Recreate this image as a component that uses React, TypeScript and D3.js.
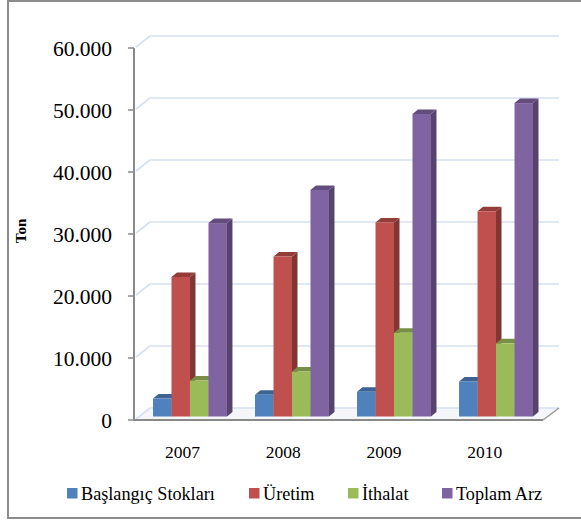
import React from "react";
import * as d3 from "d3";

const years = ["2007", "2008", "2009", "2010"];
const seriesNames = ["Başlangıç Stokları", "Üretim", "İthalat", "Toplam Arz"];
const baslangic = [2900, 3500, 4000, 5650];
const uretim = [22500, 25800, 31300, 33100];
const ithalat = [5800, 7250, 13500, 11800];
const toplamArz = [31200, 36550, 48800, 50550];
const seriesColors = ["#4F81BD", "#C0504D", "#9BBB59", "#8064A2"];
const yTicks = [0, 10000, 20000, 30000, 40000, 50000, 60000];
const yTickLabels = ["0", "10.000", "20.000", "30.000", "40.000", "50.000", "60.000"];

const seriesValues = [baslangic, uretim, ithalat, toplamArz];

const W = 581;
const H = 521;
const FONT =
  '"Times New Roman", Times, "Liberation Serif", Tinos, "DejaVu Serif", serif';

export default function App() {
  const yFront = d3.scaleLinear().domain([0, 60000]).range([420, 48]);
  const yBar = d3.scaleLinear().domain([0, 60000]).range([416.5, 44.5]);
  const wallDx = 13;
  const wallDy = 12;

  const x0 = d3
    .scaleBand<string>()
    .domain(years)
    .range([139, 547])
    .paddingInner(0.275)
    .paddingOuter(14 / 102);
  const x1 = d3
    .scaleBand<string>()
    .domain(seriesNames)
    .range([0, x0.bandwidth()]);

  const xLabel = d3.scaleBand<string>().domain(years).range([132, 535]);

  const bdx = 5.5;
  const bdy = 4.5;

  const legendX = [67, 249, 348, 442];

  const bars: React.ReactNode[] = [];
  years.forEach((yr, gi) => {
    seriesNames.forEach((s, si) => {
      const v = seriesValues[si][gi];
      const x = (x0(yr) as number) + (x1(s) as number);
      const w = x1.bandwidth();
      const yt = yBar(v);
      const yb = yBar(0);
      const c = seriesColors[si];
      const side = d3.color(c)!.darker(1.1).formatHex();
      const top = d3.color(c)!.darker(0.75).formatHex();
      bars.push(
        <g key={`${yr}-${s}`}>
          <polygon
            points={`${x + w},${yt} ${x + w + bdx},${yt - bdy} ${x + w + bdx},${yb - bdy} ${x + w},${yb}`}
            fill={side}
          />
          <polygon
            points={`${x},${yt} ${x + bdx},${yt - bdy} ${x + w + bdx},${yt - bdy} ${x + w},${yt}`}
            fill={top}
          />
          <rect x={x} y={yt} width={w} height={yb - yt} fill={c} />
        </g>
      );
    });
  });

  return (
    <svg
      width={W}
      height={H}
      fontFamily={FONT}
      style={{ position: "absolute", left: 0, top: 0, background: "#fff" }}
    >
      <rect x={8} y={1} width={600} height={517} fill="#fff" stroke="#8c8c8c" strokeWidth={2} />

      <polygon points={`134,420 543,420 559,408 150,408`} fill="#f4f6fa" />

      {yTicks.map((t) => {
        const yf = yFront(t);
        return (
          <g key={`g${t}`} stroke="#d6e0ef" strokeWidth={1.6} fill="none">
            <line x1={136} y1={yf - 1} x2={136 + wallDx + 1} y2={yf - wallDy} />
            <line x1={136 + wallDx + 1} y1={yf - wallDy} x2={559} y2={yf - wallDy} />
          </g>
        );
      })}

      {bars}

      <line x1={134} y1={420} x2={543} y2={420} stroke="#8a8a8a" strokeWidth={2} />
      <line x1={543} y1={420} x2={559} y2={408} stroke="#9a9a9a" strokeWidth={1.5} />

      <line x1={134} y1={48} x2={134} y2={421} stroke="#8a8a8a" strokeWidth={2} />
      {yTicks.map((t, i) => (
        <g key={`t${t}`}>
          <line x1={128} y1={yFront(t)} x2={134} y2={yFront(t)} stroke="#8a8a8a" strokeWidth={1.5} />
          <text x={112} y={yFront(t) + 8} textAnchor="end" fontSize={21.5} fill="#000">
            {yTickLabels[i]}
          </text>
        </g>
      ))}

      <text
        transform="translate(26,231) rotate(-90)"
        textAnchor="middle"
        fontSize={15}
        fontWeight="bold"
        fill="#000"
      >
        Ton
      </text>

      {years.map((yr) => (
        <text
          key={`x${yr}`}
          x={(xLabel(yr) as number) + xLabel.bandwidth() / 2}
          y={458}
          textAnchor="middle"
          fontSize={17.5}
          fill="#000"
        >
          {yr}
        </text>
      ))}

      {seriesNames.map((s, i) => (
        <g key={`l${s}`}>
          <rect x={legendX[i]} y={488} width={10.5} height={10.5} fill={seriesColors[i]} />
          <text x={legendX[i] + 14} y={499.5} fontSize={18.2} fill="#000">
            {s}
          </text>
        </g>
      ))}
    </svg>
  );
}
